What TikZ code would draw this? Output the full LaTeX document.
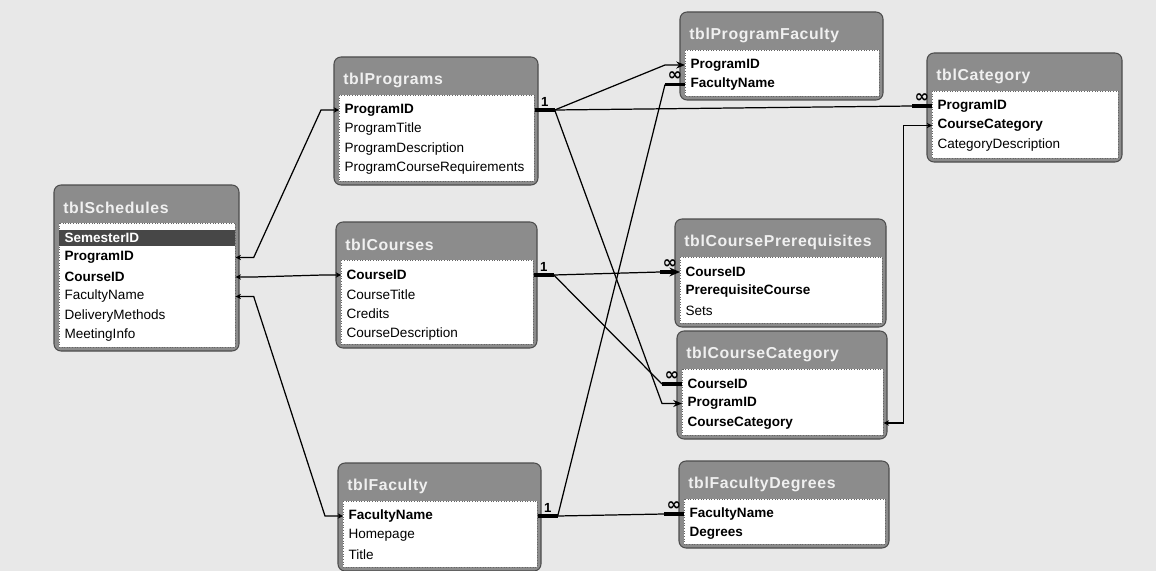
\documentclass[tikz,border=0pt]{standalone}
\usepackage{fontspec}
\setmainfont{Liberation Sans}
\newfontfamily\titlefam[LetterSpace=4]{Liberation Sans}
\newfontfamily\symfam{DejaVu Sans}
\usepackage{tikz}
\usetikzlibrary{arrows.meta, calc}
\newcommand{\fieldfont}{\fontsize{7.7}{9}\selectfont}
\newcommand{\titlefont}{\titlefam\fontsize{9}{11}\selectfont\bfseries}
\newcommand{\cardfont}{\fontsize{7.5}{9}\selectfont\bfseries}
\newcommand{\many}{{\symfam\fontsize{10}{10}\selectfont\bfseries ∞}}
\tikzset{
  tblshade/.style={fill=black!45},
  tblborder/.style={draw=black!70, line width=0.6pt},
  tbltitle/.style={anchor=west, text=gray!12, font=\titlefont, inner sep=0pt},
  fieldbox/.style={fill=white, draw=black!60, densely dotted, line width=0.5pt},
  fld/.style={inner xsep=3pt, inner ysep=0pt, font=\fieldfont, text=black, align=left},
  keyfld/.style={fld, font=\fieldfont\bfseries},
  keyhl/.style={keyfld, fill=black!72, text=white, minimum height=0.34cm},
  rel/.style={line width=0.7pt},
  stub/.style={line width=2pt},
  card/.style={font=\cardfont, inner sep=1pt, above},
  joinarr/.style={rel, -{Stealth[length=5pt,width=4pt]}},
  twoway/.style={rel, {Stealth[length=3pt,width=3pt]}-{Stealth[length=3pt,width=3pt]}},
}
% one table: id, x1, y1, x2, y2, title, fields
\newcommand{\dbtable}[7]{%
  \fill[tblshade, rounded corners=4pt] (#2,#3) rectangle (#4,#5);
  \draw[tblborder, rounded corners=4pt] (#2,#3) rectangle (#4,#5);
  \node[tbltitle] (#1-title) at (#2+9,#3+23) {#6};
  \filldraw[fieldbox] (#2+5,#3+38) rectangle (#4-4,#5-4);
  \pgfmathsetmacro\fw{(#4-#2-9)*0.02*28.45274-6}
  \foreach \n/\t/\s [count=\i from 0] in {#7}
    \node[\s, text width=\fw pt, anchor=west] (#1-\n) at (#2+5,#3+53+\i*19.5) {\t};
}

\begin{document}
\begin{tikzpicture}[x=0.02cm, y=-0.02cm]
  \useasboundingbox (0,0) rectangle (1156,571);
  \fill[gray!18] (0,0) rectangle (1156,571);

  % tables
  \dbtable{sch}{54}{185}{239}{351}{tblSchedules}{sem/SemesterID/keyhl, prog/ProgramID/keyfld, crs/CourseID/keyfld, fac/FacultyName/fld, dlv/DeliveryMethods/fld, mtg/MeetingInfo/fld}
  \dbtable{prg}{334}{57}{538}{185}{tblPrograms}{prog/ProgramID/keyfld, ttl/ProgramTitle/fld, dsc/ProgramDescription/fld, req/ProgramCourseRequirements/fld}
  \dbtable{pfa}{680}{12}{883}{100}{tblProgramFaculty}{prog/ProgramID/keyfld, name/FacultyName/keyfld}
  \dbtable{cat}{927}{53}{1122}{162}{tblCategory}{prog/ProgramID/keyfld, ccat/CourseCategory/keyfld, dsc/CategoryDescription/fld}
  \dbtable{crs}{336}{222}{537}{348}{tblCourses}{crs/CourseID/keyfld, ttl/CourseTitle/fld, cred/Credits/fld, dsc/CourseDescription/fld}
  \dbtable{cpr}{675}{219}{886}{327}{tblCoursePrerequisites}{crs/CourseID/keyfld, pre/PrerequisiteCourse/keyfld, sets/Sets/fld}
  \dbtable{ccg}{677}{331}{887}{439}{tblCourseCategory}{crs/CourseID/keyfld, prog/ProgramID/keyfld, ccat/CourseCategory/keyfld}
  \dbtable{fac}{338}{463}{541}{571}{tblFaculty}{name/FacultyName/keyfld, home/Homepage/fld, ttl/Title/fld}
  \dbtable{fdg}{679}{461}{889}{548}{tblFacultyDegrees}{name/FacultyName/keyfld, deg/Degrees/keyfld}

  % joins from tblSchedules
  \draw[twoway] (sch-prog.east) -- ++(18,0) -- ($(prg-prog.west)+(-18,0)$) -- (prg-prog.west);
  \draw[twoway] (sch-crs.east) -- ++(18,0) -- ($(crs-crs.west)+(-18,0)$) -- (crs-crs.west);
  \draw[twoway] (sch-fac.east) -- ++(18,0) -- ($(fac-name.west)+(-18,0)$) -- (fac-name.west);

  % tblPrograms
  \coordinate (pj) at ($(prg-prog.east)+(20,0)$);
  \coordinate (catj) at ($(cat-prog.west)+(-20,0)$);
  \draw[stub] (prg-prog.east) -- node[card] {1} (pj);
  \draw[rel] (pj) -- (catj);
  \draw[stub] (catj) -- node[card] {\many} (cat-prog.west);
  \draw[joinarr] (pj) -- ($(pfa-prog.west)+(-20,0)$) -- (pfa-prog.west);
  \draw[joinarr] (pj) -- ($(ccg-prog.west)+(-20,0)$) -- (ccg-prog.west);

  % tblCourses
  \coordinate (cj) at ($(crs-crs.east)+(20,0)$);
  \coordinate (cprj) at ($(cpr-crs.west)+(-20,0)$);
  \coordinate (ccgj) at ($(ccg-crs.west)+(-20,0)$);
  \draw[stub] (crs-crs.east) -- node[card] {1} (cj);
  \draw[rel] (cj) -- (cprj);
  \draw[stub, -{Stealth[length=6pt,width=5pt]}] (cprj) -- node[card] {\many} (cpr-crs.west);
  \draw[rel] (cj) -- (ccgj);
  \draw[stub] (ccgj) -- node[card] {\many} (ccg-crs.west);

  % tblFaculty
  \coordinate (fj) at ($(fac-name.east)+(20,0)$);
  \coordinate (fdgj) at ($(fdg-name.west)+(-20,0)$);
  \coordinate (pfaj) at ($(pfa-name.west)+(-20,0)$);
  \draw[stub] (fac-name.east) -- node[card] {1} (fj);
  \draw[rel] (fj) -- (fdgj);
  \draw[stub] (fdgj) -- node[card] {\many} (fdg-name.west);
  \draw[rel] (fj) -- (pfaj);
  \draw[stub] (pfaj) -- node[card] {\many} (pfa-name.west);

  % tblCourseCategory to tblCategory
  \draw[twoway] (ccg-ccat.east) -- ++(20,0) |- (cat-ccat.west);
\end{tikzpicture}
\end{document}
